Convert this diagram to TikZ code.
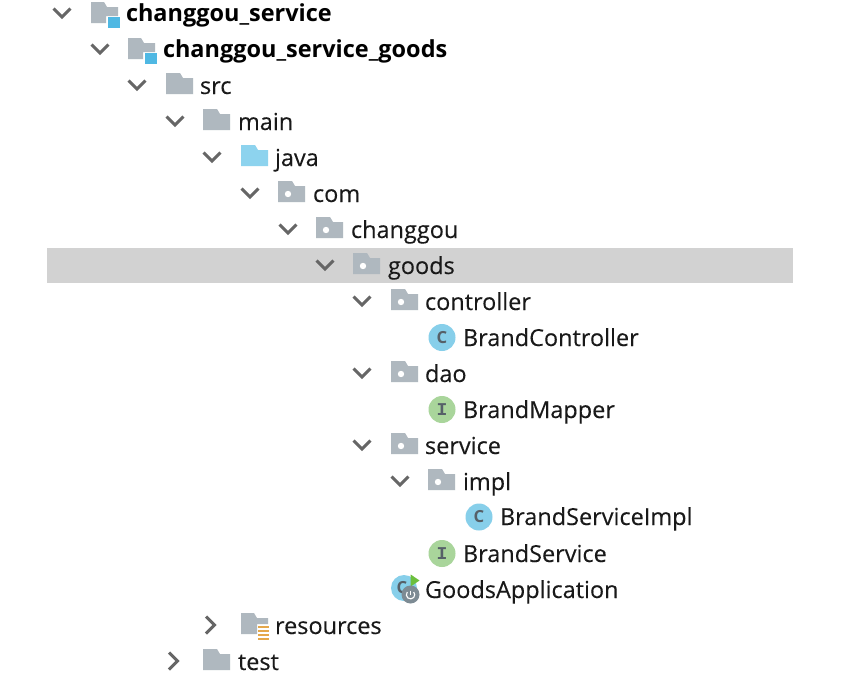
\documentclass[tikz,border=0pt]{standalone}
\usepackage{fontspec}
\setmainfont{Open Sans}
\newfontfamily\labfont[FakeBold=0.2]{Open Sans}
\newfontfamily\ifont{Liberation Mono}
\definecolor{fgrey}{HTML}{AFB8BF}
\definecolor{fblue}{HTML}{8DD3EE}
\definecolor{modblue}{HTML}{4FB8E3}
\definecolor{chev}{HTML}{666666}
\definecolor{band}{HTML}{D2D2D2}
\definecolor{cblue}{HTML}{87CFEA}
\definecolor{igreen}{HTML}{A9D59B}
\definecolor{glyph}{HTML}{566068}
\definecolor{resor}{HTML}{E5A84B}
\definecolor{gear}{HTML}{7D8B94}
\definecolor{playgreen}{HTML}{6CBF3C}
\tikzset{
  label/.style={anchor=base west,inner sep=0pt,outer sep=0pt,text=black!90,font=\labfont\fontsize{17.6pt}{20pt}\selectfont},
  boldlabel/.style={anchor=base west,inner sep=0pt,outer sep=0pt,text=black,font=\fontsize{17.6pt}{20pt}\selectfont\bfseries},
  chevline/.style={draw=chev,line width=2.9pt*0.75,line cap=butt,line join=miter},
  iconletter/.style={inner sep=0pt,text=glyph,font=\fontsize{12.5pt}{12.5pt}\selectfont\bfseries},
  iconi/.style={inner sep=0pt,text=glyph,font=\ifont\fontsize{13.5pt}{13.5pt}\selectfont\bfseries},
}
\newcommand{\chevdown}[2]{\draw[chevline] (#1-8.5,#2-4.5) -- (#1,#2+4) -- (#1+8.5,#2-4.5);}
\newcommand{\chevright}[2]{\draw[chevline] (#1-4,#2-8.5) -- (#1+4.5,#2) -- (#1-4,#2+8.5);}
\newcommand{\folder}[3]{\fill[#3] (#1,#2-13) -- (#1+14,#2-13) -- (#1+17,#2-8) -- (#1+27,#2-8) -- (#1+27,#2+8) -- (#1,#2+8) -- cycle;}
\newcommand{\pkg}[2]{\folder{#1}{#2}{fgrey}\fill[white] (#1+10,#2) circle (3.2);}
\newcommand{\module}[2]{%
  \fill[fgrey] (#1,#2-12) -- (#1+13,#2-12) -- (#1+16,#2-7) -- (#1+27,#2-7) -- (#1+27,#2+2) -- (#1+15,#2+2) -- (#1+15,#2+9) -- (#1,#2+9) -- cycle;
  \fill[modblue] (#1+17,#2+3) rectangle (#1+28.5,#2+14);}
\begin{document}
\begin{tikzpicture}[x=0.75pt,y=-0.75pt]
\useasboundingbox (0,0) rectangle (854,675);
\fill[white] (0,0) rectangle (854,675);
\fill[band] (47,248) rectangle (793,283);
\chevdown{62}{13}\module{91}{14}
\node[boldlabel] (n1) at (126,21) {changgou\_service};
\chevdown{100}{49}\module{128}{50}
\node[boldlabel] (n2) at (163,57) {changgou\_service\_goods};
\chevdown{137}{85}\folder{166}{86}{fgrey}
\node[label] (n3) at (200,94) {src};
\chevdown{175}{121}\folder{203}{122}{fgrey}
\node[label] (n4) at (238,130) {main};
\chevdown{212}{157}\folder{241}{158}{fblue}
\node[label] (n5) at (275,166) {java};
\chevdown{250}{193}\pkg{278}{194}
\node[label] (n6) at (313,202) {com};
\chevdown{288}{229}\pkg{316}{230}
\node[label] (n7) at (351,238) {changgou};
\chevdown{325}{265}\pkg{353}{266}
\node[label] (n8) at (388,274) {goods};
\chevdown{362}{301}\pkg{391}{302}
\node[label] (n9) at (425,310) {controller};
\fill[cblue] (442,337.5) circle (13.5);
\node[iconletter] (c1) at (442,337.5) {C};
\node[label] (n10) at (463,346) {BrandController};
\chevdown{362}{373}\pkg{391}{374}
\node[label] (n11) at (425,382) {dao};
\fill[igreen] (442,409.5) circle (13.5);
\node[iconi] (i1) at (442,409.5) {I};
\node[label] (n12) at (463,418) {BrandMapper};
\chevdown{362}{445}\pkg{391}{446}
\node[label] (n13) at (425,454) {service};
\chevdown{400}{481}\pkg{428}{482}
\node[label] (n14) at (463,490) {impl};
\fill[cblue] (479,517) circle (13.5);
\node[iconletter] (c2) at (479,517) {C};
\node[label] (n15) at (500,525) {BrandServiceImpl};
\fill[igreen] (442,553.5) circle (13.5);
\node[iconi] (i2) at (442,553.5) {I};
\node[label] (n16) at (463,562) {BrandService};
\fill[cblue] (404,588) circle (13);
\node[iconletter] (c3) at (402,588) {C};
\fill[playgreen] (410.7,574.5) -- (419.5,580.5) -- (410.7,586.5) -- cycle;
\fill[gear] (410.5,594.5) circle (9);
\draw[white,line width=1.1pt*0.75] (410.5,590.5) -- (410.5,594.5);
\draw[white,line width=1.1pt*0.75] (407.3,592) arc[start angle=220,end angle=-40,radius=4.2];
\node[label] (n17) at (425,598) {GoodsApplication};
\chevright{210}{625}
\fill[fgrey] (241,613) -- (254,613) -- (257,618) -- (268,618) -- (268,624) -- (257,624) -- (257,634) -- (241,634) -- cycle;
\fill[resor] (258,626) rectangle (269,628);
\fill[resor] (258,630) rectangle (269,632);
\fill[resor] (258,634) rectangle (269,636);
\fill[resor] (258,638) rectangle (269,640);
\node[label] (n18) at (275,634) {resources};
\chevright{173}{661}
\folder{203}{662}{fgrey}
\node[label] (n19) at (238,670) {test};
\end{tikzpicture}
\end{document}
